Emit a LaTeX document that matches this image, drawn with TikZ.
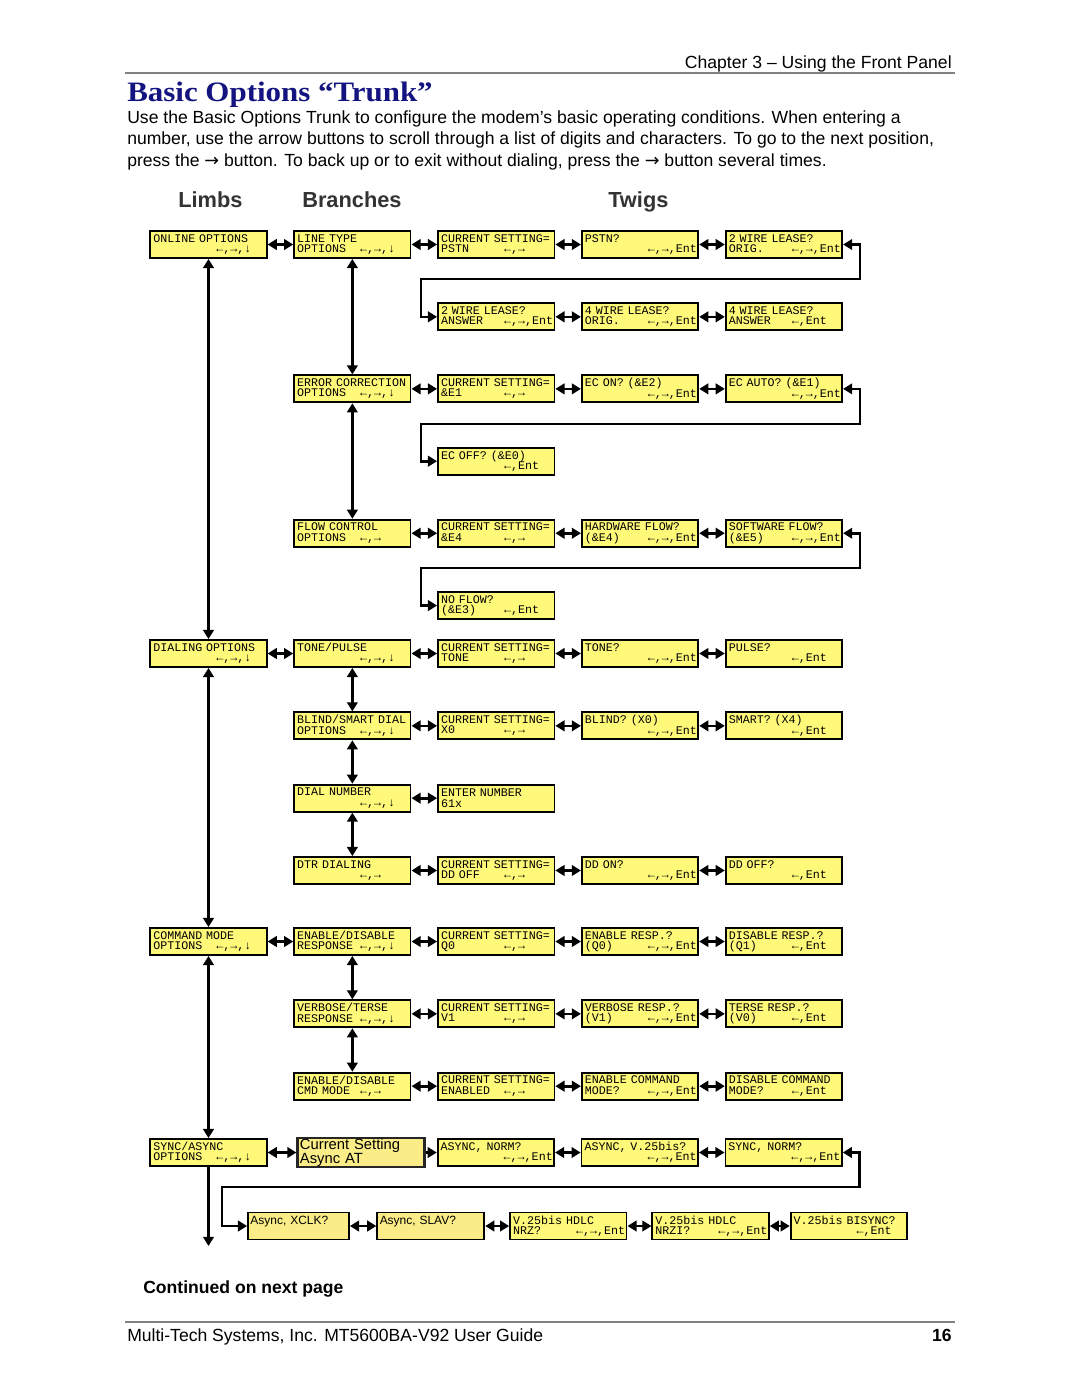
\documentclass[tikz,border=0pt]{standalone}
\usepackage{fontspec}
\usepackage{graphicx}
\setmainfont{Liberation Sans}
\setmonofont{Liberation Mono}
\newfontfamily\titlefont{Liberation Serif}
\newfontfamily\symfont{DejaVu Sans}
\usetikzlibrary{positioning,arrows.meta}

\definecolor{lcdyellow}{RGB}{255,249,122}
\definecolor{setyellow}{RGB}{250,236,135}
\definecolor{titleblue}{RGB}{20,20,128}

\newcommand{\lcdfont}{\fontsize{8.3}{7.4}\selectfont\ttfamily}
\newcommand{\bodyfont}{\fontsize{12.5}{15}\selectfont}
% two display lines, second line tabbed at column 9
\newcommand{\lcd}[3]{\mbox{#1}\\\mbox{\rlap{#2}\hphantom{MMMMMMMMM}#3}}

\begin{document}
\begin{tikzpicture}[x=0.025cm, y=-0.025cm, node distance={1.087cm and 0.64cm},
  >={Triangle[length=6.5pt,width=7.5pt]},
  lcd/.style = {draw, line width=1.3pt, fill=lcdyellow, minimum width=2.91cm, minimum height=0.675cm, text width=2.76cm, inner sep=0pt, align=left, font=\lcdfont},
  setbox/.style = {draw=black!85, line width=1.5pt, fill=setyellow, minimum width=3.175cm, minimum height=0.7cm, text width=3.05cm, inner sep=0pt, align=left, font=\fontsize{10.5}{8.6}\selectfont},
  plainbox/.style = {draw, line width=1.3pt, fill=setyellow, minimum height=0.675cm, inner sep=0pt, align=left, font=\fontsize{8.5}{8.6}\selectfont},
  link/.style = {line width=1.9pt},
  note/.style = {inner sep=0pt, font=\bodyfont}]
\fill[white] (0,0) rectangle (1080,1397);
\useasboundingbox (0,0) rectangle (1080,1397);

% page header and text
\node[note, anchor=base east] (chapter) at (952,68) {Chapter 3 – Using the Front Panel};
\draw[gray, line width=1pt] (125,73) -- (955,73);
\node[note, anchor=base west, font=\titlefont\bfseries\fontsize{20}{20}\selectfont, text=titleblue] (title) at (127,101) {\scalebox{1.1}[1]{Basic Options “Trunk”}};
\node[note, anchor=base west] (intro1) at (127,123) {Use the Basic Options Trunk to configure the modem’s basic operating conditions. When entering a};
\node[note, anchor=base west] (intro2) at (127,144) {number, use the arrow buttons to scroll through a list of digits and characters. To go to the next position,};
\node[note, anchor=base west] (intro3) at (127,166) {press the {\symfont →} button. To back up or to exit without dialing, press the {\symfont →} button several times.};
\node[note, anchor=base west, font=\bfseries\fontsize{15.5}{16}\selectfont, text=black!80] (limbs) at (178,207) {Limbs};
\node[note, anchor=base west, font=\bfseries\fontsize{15.5}{16}\selectfont, text=black!80] (branches) at (302,207) {Branches};
\node[note, anchor=base west, font=\bfseries\fontsize{15.5}{16}\selectfont, text=black!80] (twigs) at (608,207) {Twigs};

% online options
\node[lcd] (onl) at (208.5,244.5) {\lcd{ONLINE OPTIONS}{}{←,→,↓}};
\node[lcd, right=of onl] (ltype) {\lcd{LINE TYPE}{OPTIONS}{←,→,↓}};
\node[lcd, right=of ltype] (cs1) {\lcd{CURRENT SETTING=}{PSTN}{←,→}};
\node[lcd, right=of cs1] (pstn) {\lcd{PSTN?}{}{←,→,Ent}};
\node[lcd, right=of pstn] (wo2) {\lcd{2 WIRE LEASE?}{ORIG.}{←,→,Ent}};
\node[lcd, below=of cs1] (wa2) {\lcd{2 WIRE LEASE?}{ANSWER}{←,→,Ent}};
\node[lcd, right=of wa2] (wo4) {\lcd{4 WIRE LEASE?}{ORIG.}{←,→,Ent}};
\node[lcd, right=of wo4] (wa4) {\lcd{4 WIRE LEASE?}{ANSWER}{←,Ent}};

\node[lcd, below=2.8875cm of ltype] (ecopt) {\lcd{ERROR CORRECTION}{OPTIONS}{←,→,↓}};
\node[lcd, right=of ecopt] (cs2) {\lcd{CURRENT SETTING=}{\&E1}{←,→}};
\node[lcd, right=of cs2] (econ) {\lcd{EC ON? (\&E2)}{}{←,→,Ent}};
\node[lcd, right=of econ] (ecauto) {\lcd{EC AUTO? (\&E1)}{}{←,→,Ent}};
\node[lcd, below=of cs2] (ecoff) {\lcd{EC OFF? (\&E0)}{}{←,Ent}};

\node[lcd, below=2.8875cm of ecopt] (flow) {\lcd{FLOW CONTROL}{OPTIONS}{←,→}};
\node[lcd, right=of flow] (cs3) {\lcd{CURRENT SETTING=}{\&E4}{←,→}};
\node[lcd, right=of cs3] (hwflow) {\lcd{HARDWARE FLOW?}{(\&E4)}{←,→,Ent}};
\node[lcd, right=of hwflow] (swflow) {\lcd{SOFTWARE FLOW?}{(\&E5)}{←,→,Ent}};
\node[lcd, below=of cs3] (noflow) {\lcd{NO FLOW?}{(\&E3)}{←,Ent}};

% dialing options
\node[lcd] (dial) at (208.5,653.5) {\lcd{DIALING OPTIONS}{}{←,→,↓}};
\node[lcd, right=of dial] (tone) {\lcd{TONE/PULSE}{}{←,→,↓}};
\node[lcd, right=of tone] (cs4) {\lcd{CURRENT SETTING=}{TONE}{←,→}};
\node[lcd, right=of cs4] (toneq) {\lcd{TONE?}{}{←,→,Ent}};
\node[lcd, right=of toneq] (pulse) {\lcd{PULSE?}{}{←,Ent}};

\node[lcd, below=of tone] (blind) {\lcd{BLIND/SMART DIAL}{OPTIONS}{←,→,↓}};
\node[lcd, right=of blind] (cs5) {\lcd{CURRENT SETTING=}{X0}{←,→}};
\node[lcd, right=of cs5] (blindq) {\lcd{BLIND? (X0)}{}{←,→,Ent}};
\node[lcd, right=of blindq] (smart) {\lcd{SMART? (X4)}{}{←,Ent}};

\node[lcd, below=of blind] (dnum) {\lcd{DIAL NUMBER}{}{←,→,↓}};
\node[lcd, right=of dnum] (enum) {\lcd{ENTER NUMBER}{61x}{}};

\node[lcd, below=of dnum] (dtr) {\lcd{DTR DIALING}{}{←,→}};
\node[lcd, right=of dtr] (cs6) {\lcd{CURRENT SETTING=}{DD OFF}{←,→}};
\node[lcd, right=of cs6] (ddon) {\lcd{DD ON?}{}{←,→,Ent}};
\node[lcd, right=of ddon] (ddoff) {\lcd{DD OFF?}{}{←,Ent}};

% command mode options
\node[lcd] (cmd) at (208.5,941.5) {\lcd{COMMAND MODE}{OPTIONS}{←,→,↓}};
\node[lcd, right=of cmd] (resp) {\lcd{ENABLE/DISABLE}{RESPONSE}{←,→,↓}};
\node[lcd, right=of resp] (cs7) {\lcd{CURRENT SETTING=}{Q0}{←,→}};
\node[lcd, right=of cs7] (enresp) {\lcd{ENABLE RESP.?}{(Q0)}{←,→,Ent}};
\node[lcd, right=of enresp] (disresp) {\lcd{DISABLE RESP.?}{(Q1)}{←,Ent}};

\node[lcd, below=of resp] (verb) {\lcd{VERBOSE/TERSE}{RESPONSE}{←,→,↓}};
\node[lcd, right=of verb] (cs8) {\lcd{CURRENT SETTING=}{V1}{←,→}};
\node[lcd, right=of cs8] (verbq) {\lcd{VERBOSE RESP.?}{(V1)}{←,→,Ent}};
\node[lcd, right=of verbq] (terse) {\lcd{TERSE RESP.?}{(V0)}{←,Ent}};

\node[lcd, below=of verb] (cmdm) {\lcd{ENABLE/DISABLE}{CMD MODE}{←,→}};
\node[lcd, right=of cmdm] (cs9) {\lcd{CURRENT SETTING=}{ENABLED}{←,→}};
\node[lcd, right=of cs9] (encmd) {\lcd{ENABLE COMMAND}{MODE?}{←,→,Ent}};
\node[lcd, right=of encmd] (discmd) {\lcd{DISABLE COMMAND}{MODE?}{←,Ent}};

% sync/async options
\node[lcd] (sync) at (208.5,1152.5) {\lcd{SYNC/ASYNC}{OPTIONS}{←,→,↓}};
\node[setbox, right=0.72cm of sync] (cur) {Current Setting\\Async AT};
\node[lcd, right=0.28cm of cur] (anorm) {\lcd{ASYNC, NORM?}{}{←,→,Ent}};
\node[lcd, right=of anorm] (av25) {\lcd{ASYNC, V.25bis?}{}{←,→,Ent}};
\node[lcd, right=of av25] (snorm) {\lcd{SYNC, NORM?}{}{←,→,Ent}};

\node[plainbox, minimum width=2.525cm, text width=2.4cm] (xclk) at (298.5,1226) {Async, XCLK?\\\mbox{}};
\node[plainbox, minimum width=2.675cm, text width=2.55cm, right=0.66cm of xclk] (slav) {Async, SLAV?\\\mbox{}};
\node[lcd, right=0.6cm of slav] (nrz) {\lcd{V.25bis HDLC}{NRZ?}{←,→,Ent}};
\node[lcd, right=0.6cm of nrz] (nrzi) {\lcd{V.25bis HDLC}{NRZI?}{←,→,Ent}};
\node[lcd, right=0.5cm of nrzi] (bisync) {\lcd{V.25bis BISYNC?}{}{←,Ent}};
\coordinate (limbend) at (208.5,1246);

% limbs
\draw[<->, link] (onl) -- (dial);
\draw[<->, link] (dial) -- (cmd);
\draw[<->, link] (cmd) -- (sync);
\draw[->, link] (sync) -- (limbend);

% branches
\draw[<->, link] (ltype) -- (ecopt);
\draw[<->, link] (ecopt) -- (flow);
\draw[<->, link] (tone) -- (blind);
\draw[<->, link] (blind) -- (dnum);
\draw[<->, link] (dnum) -- (dtr);
\draw[<->, link] (resp) -- (verb);
\draw[<->, link] (verb) -- (cmdm);

% twigs
\draw[<->, link] (onl) -- (ltype);
\draw[<->, link] (ltype) -- (cs1);
\draw[<->, link] (cs1) -- (pstn);
\draw[<->, link] (pstn) -- (wo2);
\draw[<->, link] (wo2.east) -- ++(17,0) |- (421,279) |- (wa2.west);
\draw[<->, link] (wa2) -- (wo4);
\draw[<->, link] (wo4) -- (wa4);

\draw[<->, link] (ecopt) -- (cs2);
\draw[<->, link] (cs2) -- (econ);
\draw[<->, link] (econ) -- (ecauto);
\draw[<->, link] (ecauto.east) -- ++(17,0) |- (421,424) |- (ecoff.west);

\draw[<->, link] (flow) -- (cs3);
\draw[<->, link] (cs3) -- (hwflow);
\draw[<->, link] (hwflow) -- (swflow);
\draw[<->, link] (swflow.east) -- ++(17,0) |- (421,568) |- (noflow.west);

\draw[<->, link] (dial) -- (tone);
\draw[<->, link] (tone) -- (cs4);
\draw[<->, link] (cs4) -- (toneq);
\draw[<->, link] (toneq) -- (pulse);
\draw[<->, link] (blind) -- (cs5);
\draw[<->, link] (cs5) -- (blindq);
\draw[<->, link] (blindq) -- (smart);
\draw[<->, link] (dnum) -- (enum);
\draw[<->, link] (dtr) -- (cs6);
\draw[<->, link] (cs6) -- (ddon);
\draw[<->, link] (ddon) -- (ddoff);

\draw[<->, link] (cmd) -- (resp);
\draw[<->, link] (resp) -- (cs7);
\draw[<->, link] (cs7) -- (enresp);
\draw[<->, link] (enresp) -- (disresp);
\draw[<->, link] (verb) -- (cs8);
\draw[<->, link] (cs8) -- (verbq);
\draw[<->, link] (verbq) -- (terse);
\draw[<->, link] (cmdm) -- (cs9);
\draw[<->, link] (cs9) -- (encmd);
\draw[<->, link] (encmd) -- (discmd);

\draw[<->, link] (sync) -- (cur);
\draw[->, link] (cur) -- (anorm);
\draw[<->, link] (anorm) -- (av25);
\draw[<->, link] (av25) -- (snorm);
\draw[<->, link] (snorm.east) -- ++(17,0) |- (222,1187) |- (xclk.west);
\draw[<->, link] (xclk) -- (slav);
\draw[<->, link] (slav) -- (nrz);
\draw[<->, link] (nrz) -- (nrzi);
\draw[<->, link] (nrzi) -- (bisync);

% page footer
\node[note, anchor=base west, font=\bfseries\fontsize{12.5}{13}\selectfont] (cont) at (143,1293) {Continued on next page};
\draw[gray, line width=1pt] (125,1322) -- (955,1322);
\node[note, anchor=base west] (guide) at (127,1341) {Multi-Tech Systems, Inc. MT5600BA-V92 User Guide};
\node[note, anchor=base east, font=\bfseries\bodyfont] (pageno) at (952,1341) {16};
\end{tikzpicture}
\end{document}
